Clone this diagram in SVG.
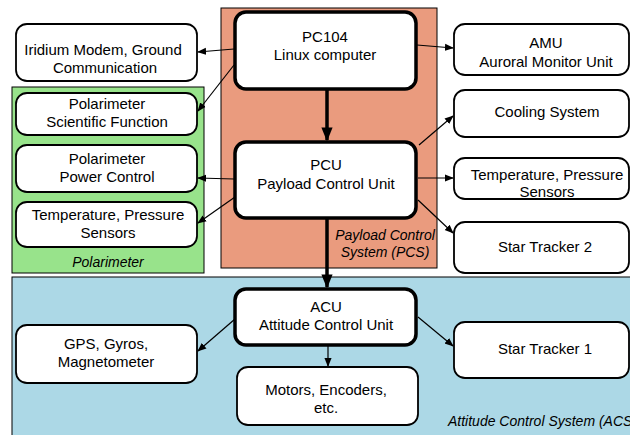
<svg xmlns="http://www.w3.org/2000/svg" width="630" height="435" viewBox="0 0 630 435">
<defs>
<style>
.t{font-family:"Liberation Sans",Arial,sans-serif;font-size:15px;fill:#000;text-anchor:middle}
.i{font-family:"Liberation Sans",Arial,sans-serif;font-size:14px;font-style:italic;fill:#000;text-anchor:middle}
.n{fill:#fff;stroke:#000;stroke-width:1.8}
.k{fill:#fff;stroke:#000;stroke-width:3.5}
.c{stroke:#000;stroke-width:1.2;fill:none;marker-end:url(#a)}
.C{stroke:#000;stroke-width:3.5;fill:none;marker-end:url(#A)}
</style>
<marker id="a" viewBox="0 0 10 10" refX="9" refY="5" markerWidth="9" markerHeight="9" markerUnits="userSpaceOnUse" orient="auto"><path d="M0,1 L10,5 L0,9 z" fill="#000"/></marker>
<marker id="A" viewBox="0 0 10 10" refX="9" refY="5" markerWidth="14" markerHeight="14" markerUnits="userSpaceOnUse" orient="auto"><path d="M0,1 L10,5 L0,9 z" fill="#000"/></marker>
</defs>
<rect width="630" height="435" fill="#fff"/>
<g id="pcs-group">
<rect x="221" y="8" width="216" height="260" fill="#EA9B7E" stroke="#000" stroke-width="1"/>
<text class="i" x="385" y="240">Payload Control</text>
<text class="i" x="385" y="257">System (PCS)</text>
</g>
<g id="polarimeter-group">
<rect x="12" y="87" width="192" height="186" fill="#98E38B" stroke="#000" stroke-width="1"/>
<text class="i" x="108" y="267">Polarimeter</text>
</g>
<g id="acs-group">
<rect x="12" y="277" width="630" height="170" fill="#ACD8E6" stroke="#000" stroke-width="1"/>
<text class="i" x="448" y="426" style="text-anchor:start">Attitude Control System (ACS)</text>
</g>
<g id="connectors">
<line class="c" x1="234" y1="49" x2="198" y2="52"/>
<line class="c" x1="234" y1="65" x2="198" y2="111"/>
<line class="c" x1="417" y1="45" x2="453" y2="48"/>
<line class="C" x1="327" y1="89" x2="327" y2="140"/>
<line class="c" x1="419" y1="145" x2="453" y2="116"/>
<line class="c" x1="234" y1="179" x2="198" y2="178"/>
<line class="c" x1="235" y1="197" x2="198" y2="223"/>
<line class="c" x1="418" y1="178" x2="453" y2="178"/>
<line class="c" x1="418" y1="200" x2="453" y2="233"/>
<line class="C" x1="327" y1="218" x2="327" y2="287"/>
<line class="c" x1="235" y1="319" x2="198" y2="351"/>
<line class="c" x1="418" y1="317" x2="453" y2="346"/>
<line class="c" x1="328" y1="345" x2="328" y2="366"/>
</g>
<g id="pc104"><rect class="k" x="235" y="12" width="181" height="77" rx="11"/><text class="t" x="325" y="42">PC104</text><text class="t" x="325" y="60">Linux computer</text></g>
<g id="iridium"><rect class="n" x="16" y="24" width="181" height="57" rx="11"/><text class="t" x="103" y="55">Iridium Modem, Ground</text><text class="t" x="105" y="73">Communication</text></g>
<g id="pol-sci"><rect class="n" x="16" y="93" width="181" height="42" rx="11"/><text class="t" x="107" y="109">Polarimeter</text><text class="t" x="107" y="127">Scientific Function</text></g>
<g id="pol-power"><rect class="n" x="16" y="145" width="181" height="47" rx="11"/><text class="t" x="107" y="164">Polarimeter</text><text class="t" x="107" y="182">Power Control</text></g>
<g id="temp-left"><rect class="n" x="16" y="202" width="181" height="45" rx="11"/><text class="t" x="108" y="220">Temperature, Pressure</text><text class="t" x="108" y="238">Sensors</text></g>
<g id="pcu"><rect class="k" x="235" y="142" width="181" height="76" rx="11"/><text class="t" x="326" y="170">PCU</text><text class="t" x="326" y="189">Payload Control Unit</text></g>
<g id="amu"><rect class="n" x="454" y="24" width="175" height="51" rx="11"/><text class="t" x="546" y="48">AMU</text><text class="t" x="546" y="67">Auroral Monitor Unit</text></g>
<g id="cooling"><rect class="n" x="454" y="90" width="175" height="47" rx="11"/><text class="t" x="547" y="117">Cooling System</text></g>
<g id="temp-right"><rect class="n" x="454" y="158" width="175" height="41" rx="11"/><text class="t" x="547" y="180">Temperature, Pressure</text><text class="t" x="547" y="197">Sensors</text></g>
<g id="st2"><rect class="n" x="454" y="222" width="175" height="51" rx="11"/><text class="t" x="545" y="252">Star Tracker 2</text></g>
<g id="acu"><rect class="k" x="235" y="289" width="181" height="56" rx="11"/><text class="t" x="326" y="312">ACU</text><text class="t" x="326" y="330">Attitude Control Unit</text></g>
<g id="gps"><rect class="n" x="16" y="325" width="181" height="58" rx="11"/><text class="t" x="106" y="349">GPS, Gyros,</text><text class="t" x="106" y="367">Magnetometer</text></g>
<g id="motors"><rect class="n" x="237" y="367" width="181" height="58" rx="11"/><text class="t" x="326" y="395">Motors, Encoders,</text><text class="t" x="326" y="413">etc.</text></g>
<g id="st1"><rect class="n" x="454" y="322" width="175" height="56" rx="11"/><text class="t" x="545" y="354">Star Tracker 1</text></g>
</svg>
